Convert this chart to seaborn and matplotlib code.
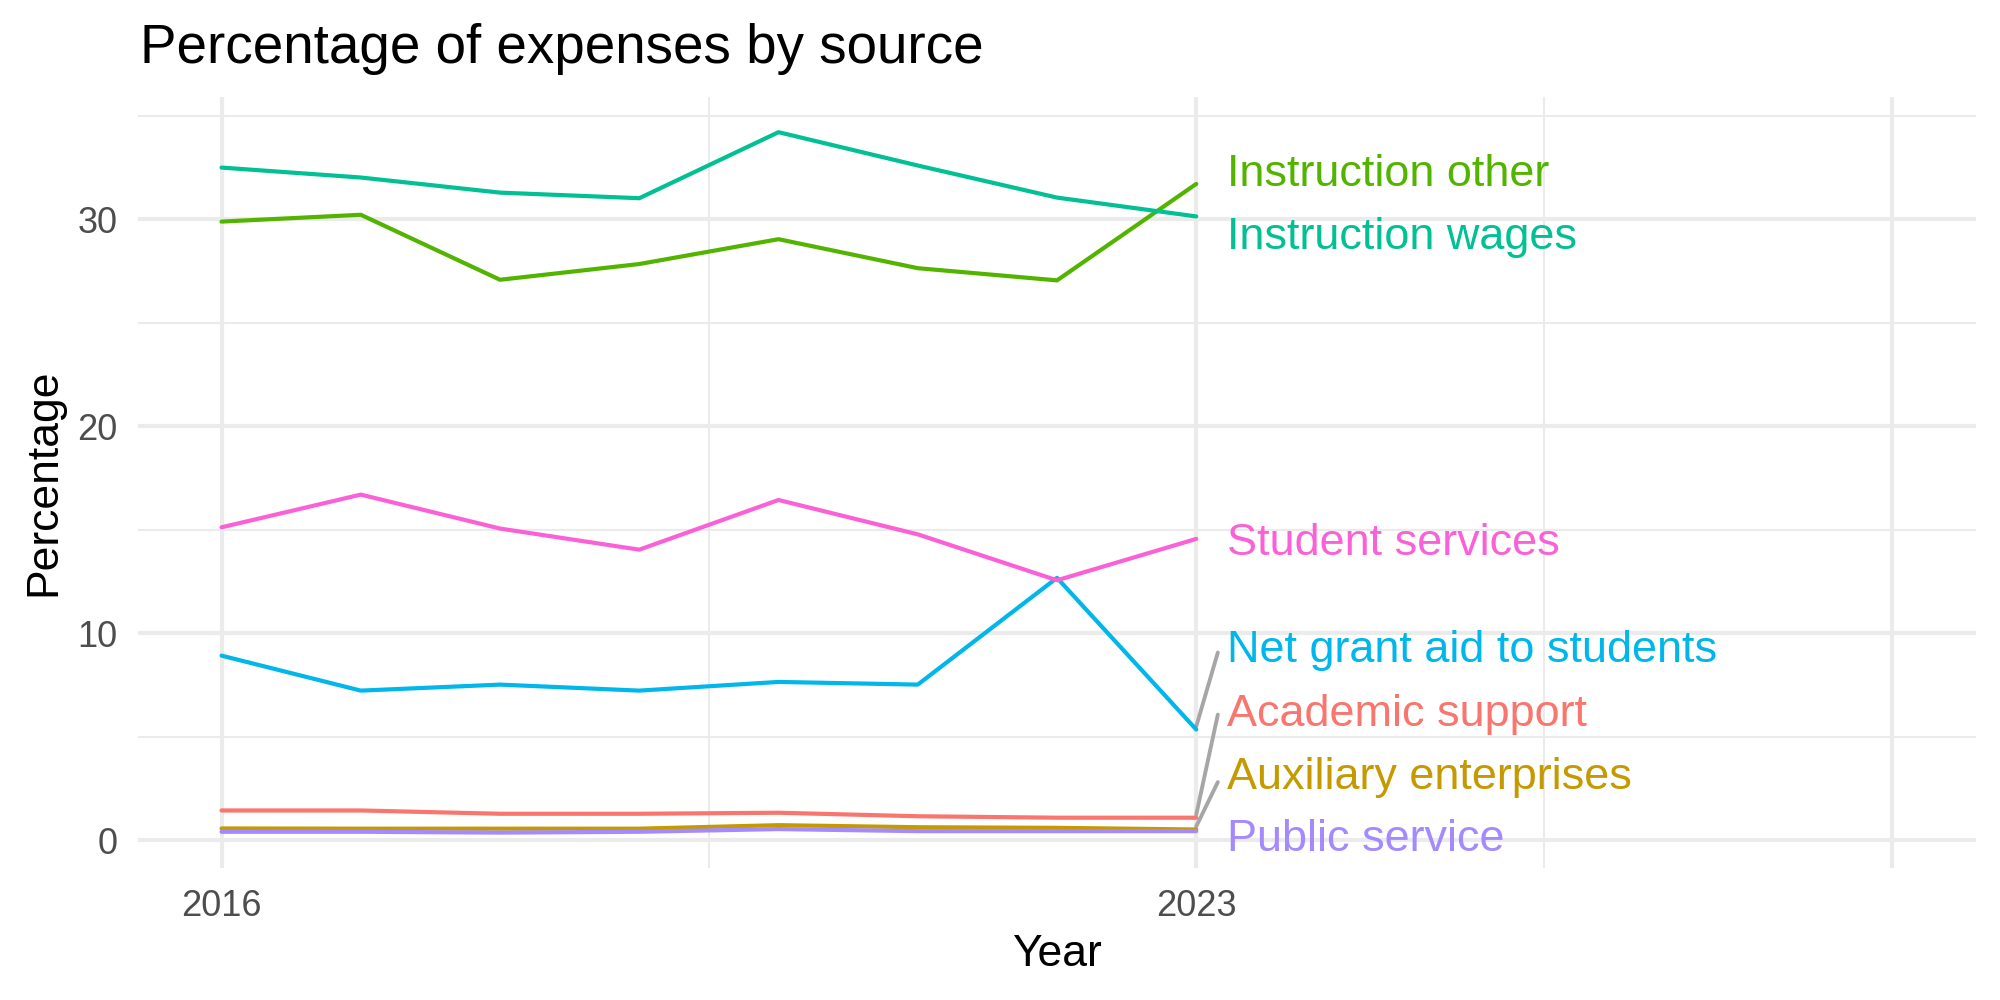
import pandas as pd
import seaborn as sns
import matplotlib.pyplot as plt

# data
years = [2016, 2017, 2018, 2019, 2020, 2021, 2022, 2023]
sources = ["Academic support", "Auxiliary enterprises", "Instruction other",
           "Instruction wages", "Net grant aid to students", "Public service",
           "Student services"]
academic_support = [1.43, 1.43, 1.27, 1.27, 1.32, 1.15, 1.08, 1.08]
auxiliary_enterprises = [0.56, 0.55, 0.55, 0.55, 0.72, 0.62, 0.59, 0.51]
instruction_other = [29.88, 30.21, 27.07, 27.83, 29.03, 27.63, 27.04, 31.70]
instruction_wages = [32.49, 32.01, 31.28, 31.01, 34.20, 32.59, 31.04, 30.13]
net_grant_aid = [8.91, 7.22, 7.51, 7.22, 7.64, 7.51, 12.67, 5.34]
public_service = [0.40, 0.40, 0.36, 0.40, 0.53, 0.43, 0.43, 0.43]
student_services = [15.11, 16.69, 15.05, 14.03, 16.43, 14.77, 12.55, 14.55]
colors = ["#F8766D", "#C49A00", "#53B400", "#00C094", "#00B6EB", "#A58AFF", "#FB61D7"]

# where the repelled labels sit (baseline) and where their leader lines end
label_y = [5.50, 2.48, 31.61, 28.55, 8.58, -0.54, 13.79]
segment_end = [6.06, 2.80, None, None, 9.06, None, None]

series = [academic_support, auxiliary_enterprises, instruction_other,
          instruction_wages, net_grant_aid, public_service, student_services]
rows = []
for name, vals in zip(sources, series):
    for yr, v in zip(years, vals):
        rows.append({"Year": yr, "Percentage": v, "Source": name})
df = pd.DataFrame(rows)

sns.set_theme(style="white")
plt.rcParams["font.family"] = ["Liberation Sans", "DejaVu Sans"]

fig, ax = plt.subplots(figsize=(10, 5), dpi=200)
fig.subplots_adjust(left=0.069, right=0.988, top=0.903, bottom=0.132)

sns.lineplot(data=df, x="Year", y="Percentage", hue="Source", hue_order=sources,
             palette=dict(zip(sources, colors)), linewidth=1.5, legend=False,
             ax=ax, zorder=3)

ax.set_xlim(2015.4, 2028.6)
ax.set_ylim(-1.35, 35.9)
ax.set_xticks([2016, 2023, 2028])
ax.set_xticklabels(["2016", "2023", ""])
ax.set_xticks([2019.5, 2025.5], minor=True)
ax.set_yticks([0, 10, 20, 30])
ax.set_yticks([5, 15, 25, 35], minor=True)
ax.grid(which="major", color="#EBEBEB", linewidth=1.5)
ax.grid(which="minor", color="#EBEBEB", linewidth=0.75)
ax.set_axisbelow(True)
ax.tick_params(which="both", length=0, labelsize=13, colors="#4D4D4D", pad=7.5)
for s in ax.spines.values():
    s.set_visible(False)

# labels at the right end of each line
last = [vals[-1] for vals in series]
for name, col, ly, se, lv in zip(sources, colors, label_y, segment_end, last):
    if se is not None:
        ax.plot([2023, 2023.155], [lv + 0.15, se], color="#A6A6A6", linewidth=1.4, zorder=2)
    ax.text(2023.22, ly, name, color=col, fontsize=16.2, ha="left", va="baseline")

ax.set_xlabel("Year", fontsize=16, color="black")
ax.set_ylabel("Percentage", fontsize=16, color="black")
ax.xaxis.set_label_coords(0.5, -0.085)
ax.yaxis.set_label_coords(-0.04, 0.5)

fig.text(0.07, 0.937, "Percentage of expenses by source", fontsize=19.7,
         ha="left", va="baseline", color="black")

plt.savefig("out.png", dpi=200)
